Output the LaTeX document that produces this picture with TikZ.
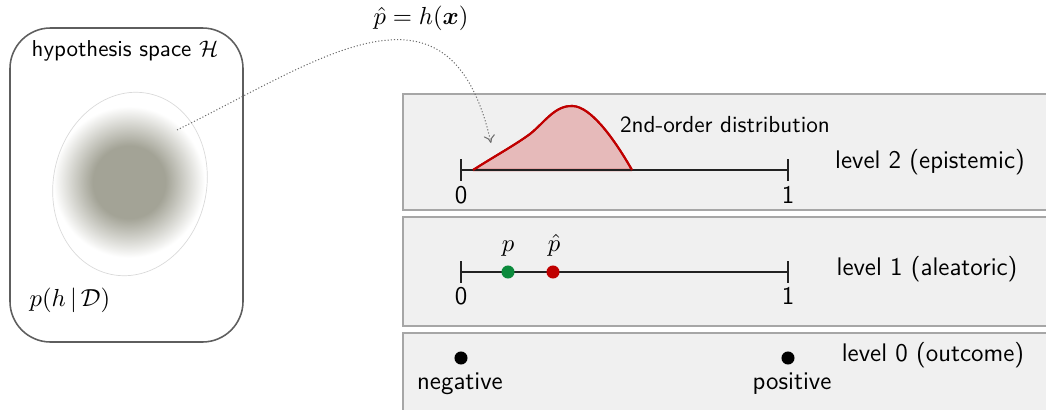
\documentclass[tikz,border=0pt]{standalone}
\usepackage{amsmath,bm}
\usetikzlibrary{arrows.meta}
\definecolor{panelfill}{HTML}{F0F0F0}
\definecolor{panelborder}{HTML}{A6A6A6}
\definecolor{boxborder}{HTML}{5E5E5E}
\definecolor{blobcore}{HTML}{A3A396}
\definecolor{distfill}{HTML}{E6BABA}
\definecolor{distred}{HTML}{C00000}
\definecolor{dotgreen}{HTML}{0B8A3C}
\definecolor{axiscol}{HTML}{222222}
\pgfdeclareradialshading{blobshade}{\pgfpoint{0bp}{0bp}}{color(0bp)=(blobcore); color(11.5bp)=(blobcore); color(24bp)=(white); color(50bp)=(white)}
\newcommand\lvfont{\fontsize{11.3}{13.5}\selectfont}
\begin{document}
\begin{tikzpicture}[x=0.444pt,y=-0.444pt,font=\sffamily,
  hbox/.style={draw=boxborder,line width=0.7pt,rounded corners=18pt},
  panel/.style={fill=panelfill,draw=panelborder,line width=0.9pt},
  axisline/.style={draw=axiscol,line width=0.65pt},
  lbl/.style={inner sep=0pt},
  biglbl/.style={inner sep=0pt,font=\sffamily\lvfont},
  dotbase/.style={circle,inner sep=0pt,minimum size=5.8pt},
  dotg/.style={dotbase,fill=dotgreen},
  dotr/.style={dotbase,fill=distred},
  dotk/.style={dotbase,fill=black},
  conn/.style={draw=gray!85!black,dash pattern=on 0.5pt off 0.9pt,line width=0.45pt,-{To[length=3.5pt,width=5pt]}},
  dist/.style={fill=distfill,draw=distred,line width=0.9pt,line join=round}]
\clip (0,0) rectangle (1046,410);
\useasboundingbox (0,0) rectangle (1046,410);

% left hypothesis space box
\draw[hbox] (10,28) rectangle (243,342);
\node[lbl,font=\sffamily\fontsize{10.2}{12}\selectfont] (hs) at (125,51) {hypothesis space $\mathcal{H}$};
\node[lbl,font=\fontsize{10.5}{12}\selectfont] (post) at (70,300) {$p(h\,|\,\mathcal{D})$};
\shade[shading=blobshade] (129,182) circle [radius=35pt];
\draw[draw=gray!30,line width=0.3pt] (130,184) ellipse [x radius=34pt, y radius=41pt, rotate=-12];

% panels
\draw[panel] (403,94) rectangle (1070,210);
\draw[panel] (403,217) rectangle (1070,326);
\draw[panel] (403,333) rectangle (1070,440);

% level 2
\coordinate (a2l) at (461,170);
\coordinate (a2r) at (788,170);
\path[dist] (473,170) .. controls (495,156) and (515,145) .. (530,134)
  .. controls (545,122) and (555,105) .. (573,106)
  .. controls (590,107) and (612,135) .. (632,170) -- cycle;
\draw[axisline] (a2l) -- (a2r);
\draw[axisline] (a2l) ++(0,-11) -- ++(0,22);
\draw[axisline] (a2r) ++(0,-11) -- ++(0,22);
\draw[dist,fill=none] (473,170) .. controls (495,156) and (515,145) .. (530,134)
  .. controls (545,122) and (555,105) .. (573,106)
  .. controls (590,107) and (612,135) .. (632,170);
\node[biglbl] (z2) at (461,195) {0};
\node[biglbl] (o2) at (788,195) {1};
\node[lbl,font=\sffamily\fontsize{10.3}{12}\selectfont] (sod) at (725,125) {2nd-order distribution};
\node[biglbl] (l2) at (930,162) {level 2 (epistemic)};

% level 1
\coordinate (a1l) at (461,272);
\coordinate (a1r) at (788,272);
\draw[axisline] (a1l) -- (a1r);
\draw[axisline] (a1l) ++(0,-11) -- ++(0,22);
\draw[axisline] (a1r) ++(0,-11) -- ++(0,22);
\node[dotg] (p) at (508,272) {};
\node[dotr] (ph) at (553,272) {};
\node[biglbl,anchor=base] (pl) at (508,251) {$p$};
\node[biglbl,anchor=base] (phl) at (554,251) {$\hat{p}$};
\node[biglbl] (z1) at (461,296) {0};
\node[biglbl] (o1) at (788,296) {1};
\node[biglbl] (l1) at (927,269) {level 1 (aleatoric)};

% level 0
\node[dotk] (neg) at (461,358) {};
\node[dotk] (pos) at (788,358) {};
\node[biglbl] (negl) at (460,384) {negative};
\node[biglbl] (posl) at (792,384) {positive};
\node[biglbl] (l0) at (933,355) {level 0 (outcome)};

% connector
\node[biglbl] (pred) at (421,18) {$\hat{p}=h(\bm{x})$};
\coordinate (bs) at (177,130);
\coordinate (ae) at (491,143);
\draw[conn] (bs) .. controls (320,60) and (450,-38) .. (ae);
\end{tikzpicture}
\end{document}
